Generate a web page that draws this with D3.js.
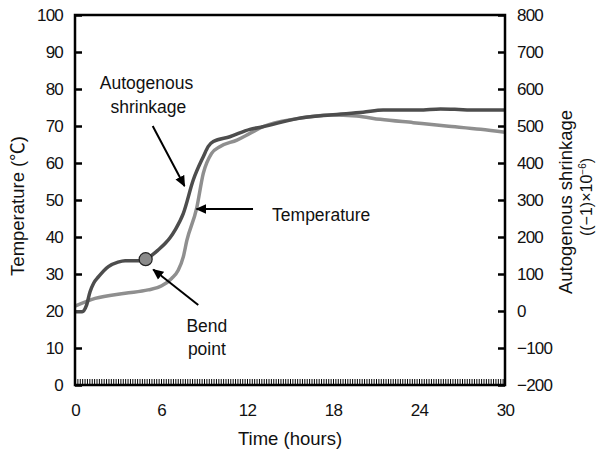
<!DOCTYPE html>
<html><head><meta charset="utf-8">
<script src="https://cdn.jsdelivr.net/npm/d3@7"></script>
<style>
body{margin:0;background:#fff;}
svg{display:block;font-family:"Liberation Sans",Arial,"Noto Sans CJK KR",sans-serif;}
</style></head>
<body><svg id="c" width="597" height="453"></svg>
<script>
// Temperature (°C, left axis)
const tempTime  = [0, 1.4, 3.5, 5.1, 6.05, 6.74, 7.2, 7.56, 7.8, 8.49, 8.95, 9.53, 10.1, 11.3, 12.2, 13.1, 15.5, 17.8, 19.65, 21.3, 23.6, 25.9, 28.3, 30];
const tempValue = [21.3, 23.4, 24.8, 25.7, 26.8, 28.8, 31, 34.7, 39, 47.8, 57.2, 62.6, 64.4, 66.2, 68, 69.8, 72, 73, 72.7, 71.8, 70.9, 70, 69.1, 68.3];
// Autogenous shrinkage ((-1)x10^-6, right axis)
const shrTime  = [0, 0.5, 0.8, 1.05, 1.3, 1.63, 2.33, 3.0, 3.5, 4.5, 4.93, 5.5, 5.8, 6.3, 6.63, 7.0, 7.56, 8.25, 8.95, 9.3, 9.65, 10.8, 12.2, 13.1, 15.5, 17.8, 20.1, 21.5, 24, 25.5, 26.5, 28, 30];
const shrValue = [-2, -2, 15, 52, 75, 92, 120, 132, 136, 136, 140, 155, 165, 183, 198, 220, 264, 354, 417, 445, 458, 471, 491, 498, 520, 530, 537, 543, 543, 546, 545, 543, 543];
// Bend point
const bendTime = [4.93];
const bendValue = [140];
// Axis ticks
const xTickLabels = [0, 6, 12, 18, 24, 30];
const yLeftTicks = [0, 10, 20, 30, 40, 50, 60, 70, 80, 90, 100];
const yRightTicks = [-200, -100, 0, 100, 200, 300, 400, 500, 600, 700, 800];

const svg = d3.select("#c");
const x = d3.scaleLinear([0, 30], [75, 505]);
const yL = d3.scaleLinear([0, 100], [385, 15]);
const yR = d3.scaleLinear([-200, 800], [385, 15]);

const tickFont = 17;
// left axis
const gl = svg.append("g").attr("transform", "translate(75,0)")
  .call(d3.axisLeft(yL).tickValues(yLeftTicks).tickSizeInner(-7).tickSizeOuter(0).tickPadding(12));
// right axis
const gr = svg.append("g").attr("transform", "translate(505,0)")
  .call(d3.axisRight(yR).tickValues(yRightTicks).tickSizeInner(-7).tickSizeOuter(0).tickPadding(12)
    .tickFormat(d => d < 0 ? "\u2212" + Math.abs(d) : String(d)));
// bottom minor ticks (every 10 min)
const minor = d3.range(0, 180 + 1).map(i => i / 6);
const gbm = svg.append("g").attr("transform", "translate(0,385)")
  .call(d3.axisBottom(x).tickValues(minor).tickSizeInner(-6).tickSizeOuter(0).tickFormat(""));
gbm.selectAll("line").attr("stroke-width", 1);
// bottom labels
const gb = svg.append("g").attr("transform", "translate(0,385)")
  .call(d3.axisBottom(x).tickValues(xTickLabels).tickSize(0).tickPadding(22));
gb.selectAll("line").remove();

[gl, gr, gb].forEach(g => {
  g.select(".domain").remove();
  g.selectAll("text").attr("font-size", tickFont).attr("letter-spacing", -0.8).attr("fill", "#111")
    .attr("font-family", "Liberation Sans, Arial, sans-serif");
});
gbm.select(".domain").remove();
[gl, gr].forEach(g => g.selectAll("line").attr("stroke-width", 2.5).attr("stroke", "#000"));
gb.selectAll("text").attr("dy", "0.5em");

// lines
const tempData = tempTime.map((t, i) => [t, tempValue[i]]);
const shrData = shrTime.map((t, i) => [t, shrValue[i]]);
svg.append("path").datum(tempData)
  .attr("d", d3.line().x(d => x(d[0])).y(d => yL(d[1])).curve(d3.curveMonotoneX))
  .attr("fill", "none").attr("stroke", "#8f8f8f").attr("stroke-width", 3.5).attr("stroke-linejoin", "round");
svg.append("path").datum(shrData)
  .attr("d", d3.line().x(d => x(d[0])).y(d => yR(d[1])).curve(d3.curveMonotoneX))
  .attr("fill", "none").attr("stroke", "#4d4d4d").attr("stroke-width", 3.5).attr("stroke-linejoin", "round");

// frame
svg.append("rect").attr("x", x(0)).attr("y", yL(100)).attr("width", x(30) - x(0)).attr("height", yL(0) - yL(100))
  .attr("fill", "none").attr("stroke", "#000").attr("stroke-width", 2.5);

// bend point marker
svg.selectAll("circle.bend").data(bendTime).join("circle")
  .attr("cx", d => x(d)).attr("cy", (d, i) => yR(bendValue[i])).attr("r", 6.5)
  .attr("fill", "#8a8a8a").attr("stroke", "#222").attr("stroke-width", 1.2);

// arrows (annotation positions in data units: time, temperature)
svg.append("defs").append("marker").attr("id", "ah").attr("viewBox", "0 0 10 10")
  .attr("refX", 9).attr("refY", 5).attr("markerWidth", 5.5).attr("markerHeight", 5.5)
  .attr("markerUnits", "strokeWidth").attr("orient", "auto")
  .append("path").attr("d", "M0,0.5L10,5L0,9.5Z").attr("fill", "#000");
const arrows = [
  [[5.42, 70], [7.64, 53.8]],
  [[12.42, 47.6], [8.48, 47.6]],
  [[8.6, 21.6], [5.46, 31.2]]
];
svg.selectAll("line.arrow").data(arrows).join("line")
  .attr("x1", d => x(d[0][0])).attr("y1", d => yL(d[0][1]))
  .attr("x2", d => x(d[1][0])).attr("y2", d => yL(d[1][1]))
  .attr("stroke", "#000").attr("stroke-width", 2).attr("marker-end", "url(#ah)");

const notes = [
  ["Autogenous", 4.99, 80.1, "middle"],
  ["shrinkage", 5.12, 73.6, "middle"],
  ["Temperature", 13.75, 44.3, "start"],
  ["Bend", 9.2, 14.4, "middle"],
  ["point", 9.2, 8.1, "middle"]
];
svg.selectAll("text.note").data(notes).join("text")
  .attr("x", d => x(d[1])).attr("y", d => yL(d[2])).attr("text-anchor", d => d[3])
  .attr("font-size", 17.5).attr("fill", "#111").text(d => d[0]);

// axis titles
svg.append("text").attr("x", 290).attr("y", 445).attr("text-anchor", "middle")
  .attr("font-size", 18.5).attr("fill", "#111").text("Time (hours)");
svg.append("text").attr("transform", "translate(24,206) rotate(-90)").attr("text-anchor", "middle")
  .attr("font-size", 18.5).attr("fill", "#111").text("Temperature (\u2103)");
svg.append("text").attr("transform", "translate(572,202) rotate(-90)").attr("text-anchor", "middle")
  .attr("font-size", 18.5).attr("fill", "#111").text("Autogenous shrinkage");
const t2 = svg.append("text").attr("transform", "translate(592,197) rotate(-90)").attr("text-anchor", "middle")
  .attr("font-size", 16).attr("fill", "#111");
t2.append("tspan").text("((\u22121)\u00d710");
t2.append("tspan").attr("dy", -6).attr("font-size", 10).text("\u22126");
t2.append("tspan").attr("dy", 6).text(")");
</script></body></html>
